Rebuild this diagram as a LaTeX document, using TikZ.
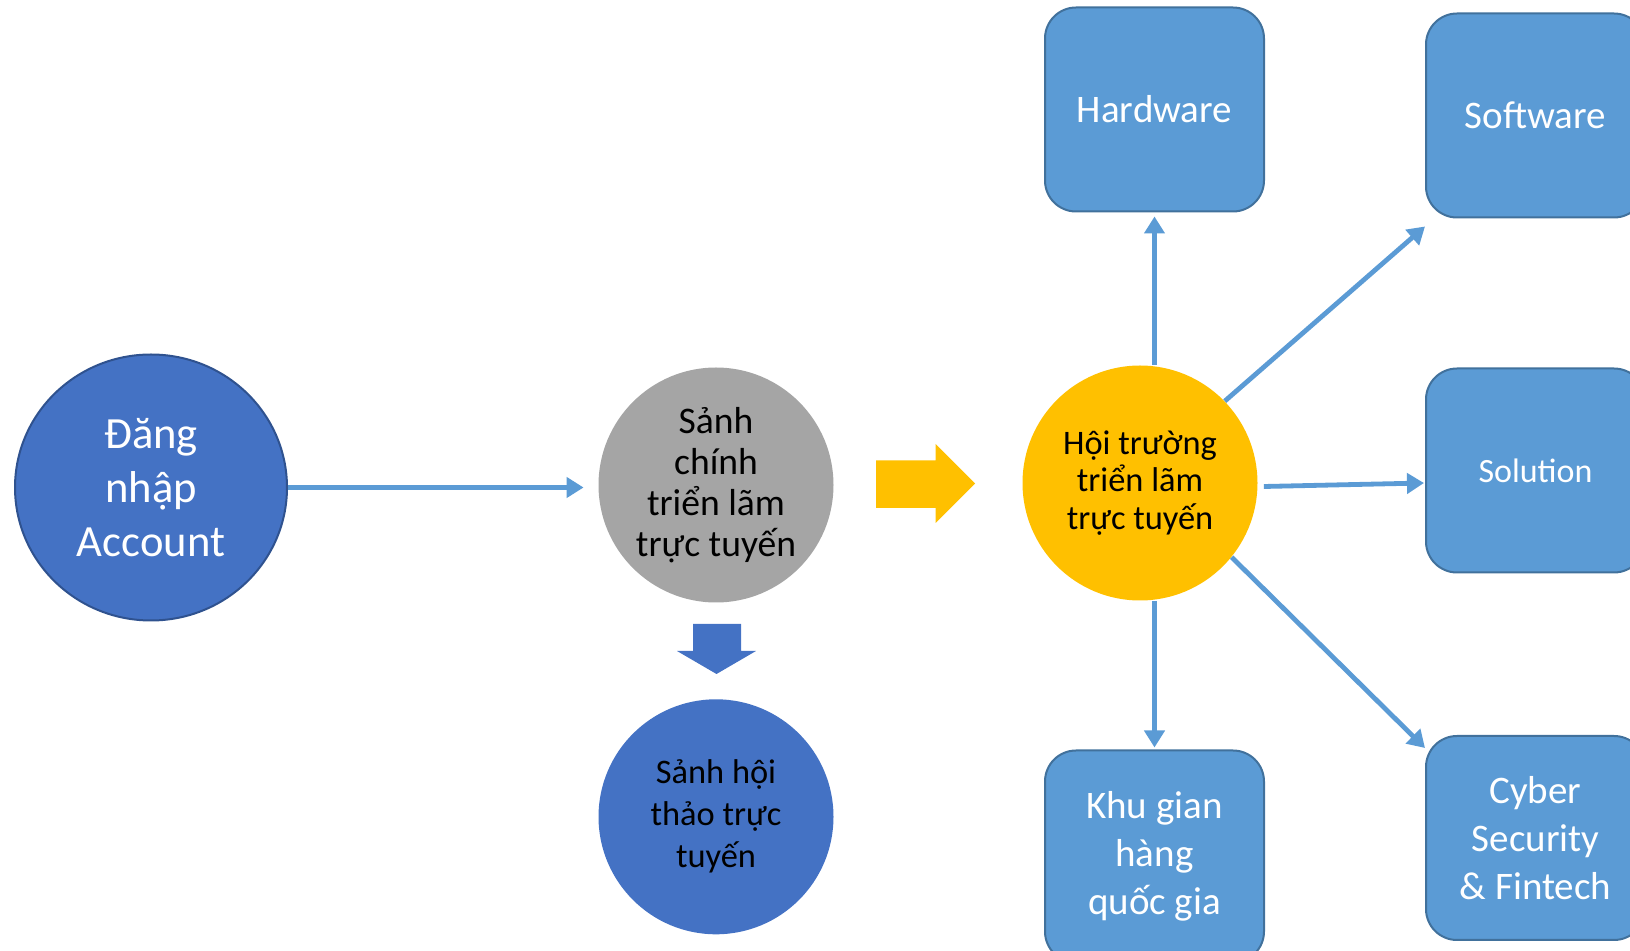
\documentclass[tikz,border=0pt]{standalone}
\usepackage{fontspec}
\setmainfont{Carlito}
\usetikzlibrary{positioning}
\usetikzlibrary{arrows.meta}
\usetikzlibrary{calc}
\usetikzlibrary{shapes.geometric}

\definecolor{hallblue}{HTML}{4472C4}
\definecolor{hallline}{HTML}{2F528F}
\definecolor{hallgray}{HTML}{A5A5A5}
\definecolor{hallgold}{HTML}{FFC000}
\definecolor{roomblue}{HTML}{5B9BD5}
\definecolor{roomline}{HTML}{41719C}

\begin{document}
\begin{tikzpicture}[ x = 0.5pt
                     , y = -0.5pt
                     , align = center
                     , >={Triangle[width=10pt, length=8.5pt]}
                     , hall/.style = { circle
                                     , inner sep = 0pt
                                     , minimum size = 117.5pt }
                     , room/.style = { rectangle
                                     , rounded corners = 15.5pt
                                     , draw = roomline
                                     , line width = 1pt
                                     , fill = roomblue
                                     , text = white
                                     , inner sep = 0pt
                                     , minimum width = 109.5pt
                                     , minimum height = 102pt
                                     , font = \fontsize{19.5}{23.9}\selectfont }
                     , link/.style = { ->
                                     , draw = roomblue
                                     , line width = 2.4pt }
                     ]

  \clip (0,0) rectangle (1630,951);

  %%
  %% Nodes
  %%
  \node (login) [ ellipse, draw = hallline, line width = 1pt, fill = hallblue
                , text = white, inner sep = 0pt
                , minimum width = 136pt, minimum height = 133pt
                , font = \fontsize{22.3}{27}\selectfont ]
        at (151,487.5) {Đăng\\nhập\\Account};
  \node (lobby) [ hall, fill = hallgray
                , font = \fontsize{18.8}{20.5}\selectfont ]
        at (716,485) {Sảnh\\chính\\triển lãm\\trực tuyến};
  \node (seminar) [ hall, fill = hallblue, below = 48pt of lobby
                  , font = \fontsize{17.2}{21}\selectfont ]
        {Sảnh hội\\thảo trực\\tuyến};
  \node (expo) [ hall, fill = hallgold
               , font = \fontsize{17.2}{18.7}\selectfont ]
        at (1140,483) {Hội trường\\triển lãm\\trực tuyến};

  \node (hardware) [room] at (1154.5,109.5) {Hardware};
  \node (software) [room] at (1535.5,115.5) {Software};
  \node (solution) [room, font = \fontsize{17}{21}\selectfont]
        at (1535.5,470.5) {Solution};
  \node (cyber) [room] at (1535.5,838) {Cyber\\Security\\\& Fintech};
  \node (booth) [room, minimum height = 106pt] at (1154.5,856.5) {Khu gian\\hàng\\quốc gia};

  %%
  %% Block arrows
  %%
  \fill[hallgold] (876,460.5) -- (935.6,460.5) -- (935.6,444) -- (975,483.5)
                  -- (935.6,523) -- (935.6,508) -- (876,508) -- cycle;
  \fill[hallblue] (693,624) -- (741,624) -- (741,651) -- (756,651)
                  -- (716.5,674) -- (677,651) -- (693,651) -- cycle;

  %%
  %% Connectors
  %%
  \draw[link, shorten > = 7.25pt] (login.east) -- (login.east -| lobby.west);
  \draw[link, shorten > = 2pt] (expo.north -| hardware.south) -- (hardware.south);
  \draw[link, shorten > = 1pt] (expo.south -| booth.north) -- (booth.north);
  \draw[link] (expo.44) -- ([yshift=-4pt]software.south west);
  \draw[link] ([xshift=3pt, yshift=-1.75pt]expo.east) -- ($(solution.west)+(-1,12.5)$);
  \draw[link] (expo.-39) -- ([yshift=-6.5pt]cyber.north west);
\end{tikzpicture}
\end{document}
